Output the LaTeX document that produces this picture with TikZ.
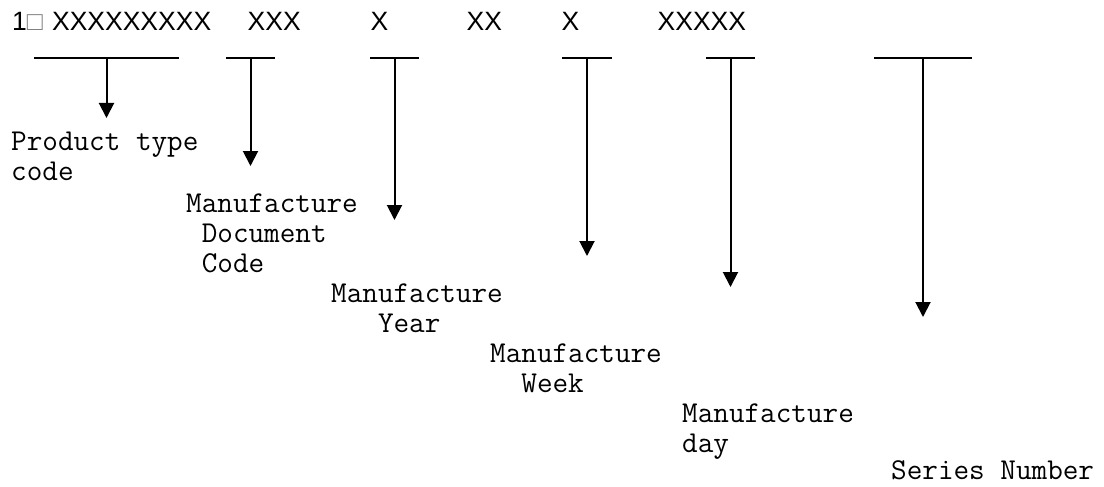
\documentclass[tikz,border=0pt]{standalone}
\usepackage{fontspec}
\usepackage{xcolor}
\usepackage{tikz}
\usetikzlibrary{arrows.meta}
\newfontfamily\arialfont{Liberation Sans}
\tikzset{
  codetxt/.style={font=\arialfont\fontsize{26.5pt}{30pt}\selectfont, anchor=base west, inner sep=0pt},
  lbl/.style={font=\ttfamily\fontsize{30.3pt}{30pt}\selectfont, anchor=base west, inner sep=0pt, align=left},
  bar/.style={line width=1.6pt},
  ar/.style={-{Triangle[length=15pt,width=15pt]}, line width=2pt},
}

\begin{document}
\begin{tikzpicture}[x=1pt, y=-1pt]
  \useasboundingbox (0,0) rectangle (1104,487);

  % code string
  \node[codetxt] (c1) at (12,31) {1\makebox[0.95em][l]{\textcolor{gray}{□}}XXXXXXXXX};
  \node[codetxt] (c2) at (247.5,31) {XXX};
  \node[codetxt] (c3) at (370.5,31) {X};
  \node[codetxt] (c4) at (466.5,31) {XX};
  \node[codetxt] (c5) at (561.5,31) {X};
  \node[codetxt] (c6) at (657.5,31) {XXXXX};

  % bars and where the arrows end
  \coordinate (s1) at (106.5,58);  \coordinate (t1) at (106.5,118);
  \coordinate (s2) at (250.5,58);  \coordinate (t2) at (250.5,166);
  \coordinate (s3) at (394.5,58);  \coordinate (t3) at (394.5,220);
  \coordinate (s4) at (587,58);    \coordinate (t4) at (587,256);
  \coordinate (s5) at (730.5,58);  \coordinate (t5) at (730.5,287);
  \coordinate (s6) at (923,58);    \coordinate (t6) at (923,317);

  \draw[bar] ([xshift=-72.5pt]s1) -- ([xshift=72.5pt]s1);
  \draw[bar] ([xshift=-24.5pt]s2) -- ([xshift=24.5pt]s2);
  \draw[bar] ([xshift=-24.5pt]s3) -- ([xshift=24.5pt]s3);
  \draw[bar] ([xshift=-25pt]s4) -- ([xshift=25pt]s4);
  \draw[bar] ([xshift=-24.5pt]s5) -- ([xshift=24.5pt]s5);
  \draw[bar] ([xshift=-49pt]s6) -- ([xshift=49pt]s6);

  \draw[ar] (s1) -- (t1);
  \draw[ar] (s2) -- (t2);
  \draw[ar] (s3) -- (t3);
  \draw[ar] (s4) -- (t4);
  \draw[ar] (s5) -- (t5);
  \draw[ar] (s6) -- (t6);

  % field names (base = last line)
  \node[lbl] (ptc) at (11,180) {Product type\\code};
  \node[lbl] (mdc) at (186,272) {Manufacture\\\phantom{x}Document\\\phantom{x}Code};
  \node[lbl] (my)  at (331,332) {Manufacture\\\phantom{xxx}Year};
  \node[lbl] (mw)  at (490,392) {Manufacture\\\phantom{xx}Week};
  \node[lbl] (md)  at (682,452) {Manufacture\\day};
  \node[lbl] (sn)  at (891,479) {Series Number};
\end{tikzpicture}
\end{document}
